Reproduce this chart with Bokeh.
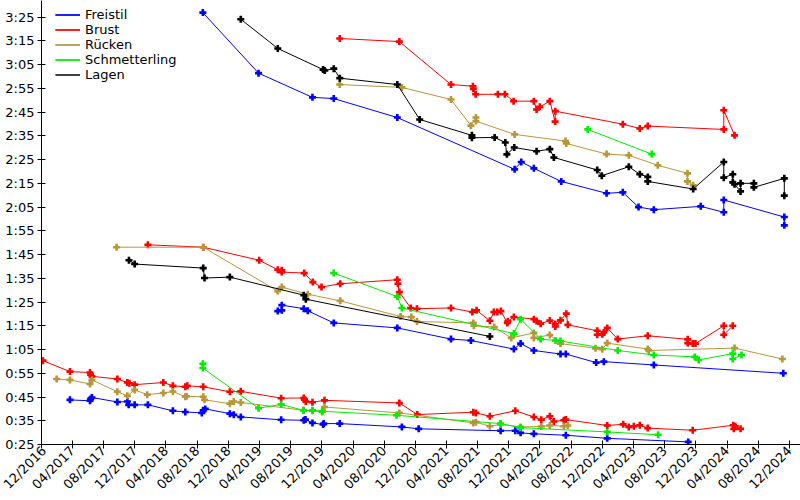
import math
import datetime as dt
from bokeh.plotting import figure
from bokeh.models import Range1d, FixedTicker, DatetimeTickFormatter, Legend, LegendItem
from bokeh.embed import file_html
from bokeh.resources import INLINE

# ---------------- tick labels ----------------
x_tick_labels = ["12/2016", "04/2017", "08/2017", "12/2017", "04/2018", "08/2018", "12/2018",
                 "04/2019", "08/2019", "12/2019", "04/2020", "08/2020", "12/2020", "04/2021",
                 "08/2021", "12/2021", "04/2022", "08/2022", "12/2022", "04/2023", "08/2023",
                 "12/2023", "04/2024", "08/2024", "12/2024"]
y_tick_labels = ["0:25", "0:35", "0:45", "0:55", "1:05", "1:15", "1:25", "1:35", "1:45", "1:55",
                 "2:05", "2:15", "2:25", "2:35", "2:45", "2:55", "3:05", "3:15", "3:25"]

# ---------------- data: dates as decimal years, times in seconds ----------------
# Freistil
freistil_200_dates = [2018.642, 2019.238, 2019.815, 2020.043, 2020.721, 2021.976, 2022.047, 2022.182,
                      2022.475, 2022.960, 2023.134, 2023.302, 2023.466, 2023.968, 2024.214, 2024.214,
                      2024.860, 2024.860]
freistil_200_times = [206.9, 181.4, 171.2, 170.7, 162.7, 140.9, 144.0, 141.3, 135.8, 130.8, 131.2,
                      125.0, 123.9, 125.3, 122.8, 128.0, 120.8, 117.3]
freistil_100_dates = [2019.444, 2019.487, 2019.487, 2019.722, 2019.765, 2020.043, 2020.721, 2021.295,
                      2021.508, 2021.968, 2022.040, 2022.182, 2022.467, 2022.524, 2022.849, 2022.931,
                      2023.466, 2024.849]
freistil_100_times = [81.2, 81.5, 83.7, 82.2, 81.3, 76.2, 74.1, 69.4, 68.8, 65.2, 67.5, 64.6, 63.1,
                      63.1, 59.5, 59.9, 58.5, 55.0]
freistil_50_dates = [2017.220, 2017.434, 2017.441, 2017.455, 2017.727, 2017.834, 2017.848, 2017.912,
                     2018.054, 2018.321, 2018.454, 2018.631, 2018.646, 2018.668, 2018.931, 2018.973,
                     2019.048, 2019.480, 2019.722, 2019.740, 2019.815, 2019.929, 2019.936, 2020.107,
                     2020.770, 2020.949, 2021.826, 2021.983, 2022.040, 2022.182, 2022.524, 2022.967,
                     2023.834]
freistil_50_times = [43.8, 43.4, 44.2, 44.8, 42.9, 43.1, 41.7, 41.7, 41.7, 39.2, 38.7, 38.3, 39.4,
                     40.0, 38.0, 37.5, 36.6, 35.4, 35.2, 35.5, 34.1, 33.4, 33.8, 33.8, 32.4, 31.6,
                     30.8, 30.8, 29.9, 29.5, 28.9, 27.6, 26.1]

# Brust
brust_200_dates = [2020.107, 2020.743, 2021.295, 2021.530, 2021.534, 2021.559, 2021.797, 2021.872,
                   2021.965, 2022.182, 2022.211, 2022.246, 2022.353, 2022.409, 2022.411, 2023.134,
                   2023.316, 2023.401, 2024.214, 2024.214, 2024.329]
brust_200_times = [196.0, 194.7, 176.6, 175.9, 174.8, 172.5, 172.5, 172.5, 169.6, 169.6, 166.1,
                   167.2, 169.6, 161.0, 165.4, 159.9, 158.1, 159.1, 157.7, 165.8, 155.2]
brust_100_dates = [2018.054, 2018.646, 2019.245, 2019.444, 2019.487, 2019.487, 2019.727, 2019.819,
                   2019.912, 2020.112, 2020.721, 2020.728, 2020.743, 2020.864, 2020.931, 2021.295,
                   2021.523, 2021.569, 2021.711, 2021.754, 2021.791, 2021.829, 2021.898, 2021.904,
                   2021.968, 2022.182, 2022.211, 2022.254, 2022.353, 2022.411, 2022.411, 2022.467,
                   2022.529, 2022.546, 2022.860, 2022.860, 2022.914, 2022.931, 2022.967, 2023.080,
                   2023.401, 2023.829, 2023.829, 2023.882, 2023.911, 2024.214, 2024.214, 2024.310]
brust_100_times = [109.1, 108.1, 102.6, 98.6, 98.4, 97.6, 97.2, 93.4, 91.3, 92.7, 94.4, 92.7, 89.2,
                   82.5, 82.2, 82.5, 80.8, 81.5, 77.1, 80.8, 80.8, 81.2, 76.2, 76.9, 78.7, 77.8,
                   77.0, 75.9, 77.2, 75.7, 74.7, 77.3, 80.1, 75.4, 72.9, 71.2, 71.4, 72.2, 74.1,
                   69.4, 70.8, 69.3, 67.7, 67.5, 67.5, 75.0, 71.2, 75.0]
brust_50_dates = [2016.931, 2017.220, 2017.434, 2017.441, 2017.455, 2017.727, 2017.834, 2017.855,
                  2017.912, 2018.219, 2018.321, 2018.454, 2018.475, 2018.646, 2018.931, 2019.048,
                  2019.480, 2019.722, 2019.730, 2019.744, 2019.815, 2019.944, 2020.743, 2020.935,
                  2021.534, 2021.562, 2021.711, 2021.983, 2022.182, 2022.261, 2022.353, 2022.396,
                  2022.503, 2022.524, 2022.967, 2023.138, 2023.198, 2023.252, 2023.316, 2023.401,
                  2023.882, 2024.315, 2024.321, 2024.336, 2024.393]
brust_50_times = [60.3, 55.7, 55.3, 54.4, 53.7, 52.6, 51.1, 50.8, 50.2, 51.1, 49.7, 49.3, 49.7,
                  49.3, 47.2, 47.4, 44.5, 44.6, 43.9, 43.1, 42.8, 43.6, 42.5, 37.6, 38.6, 38.3,
                  36.9, 39.2, 36.6, 35.4, 36.9, 34.7, 35.2, 35.5, 33.0, 33.5, 32.4, 32.7, 33.1,
                  31.9, 31.0, 33.1, 31.6, 32.7, 31.6]

# Rücken
ruecken_200_dates = [2020.107, 2020.770, 2021.295, 2021.508, 2021.562, 2021.562, 2021.976, 2022.521,
                     2022.529, 2022.960, 2023.198, 2023.508, 2023.826, 2023.826, 2023.887]
ruecken_200_times = [176.6, 175.4, 170.3, 159.3, 162.7, 161.2, 155.6, 152.8, 151.8, 147.3, 146.8,
                     142.6, 139.2, 135.8, 134.2]
ruecken_100_dates = [2017.719, 2018.646, 2019.444, 2019.487, 2019.765, 2020.112, 2020.756, 2020.871,
                     2020.931, 2021.534, 2021.540, 2021.758, 2021.940, 2022.182, 2022.182, 2022.353,
                     2022.467, 2022.842, 2022.914, 2022.967, 2023.401, 2023.412, 2024.329, 2024.839]
ruecken_100_times = [108.1, 108.1, 89.6, 91.3, 88.3, 85.5, 78.9, 78.7, 76.8, 76.2, 75.0, 74.5, 69.9,
                     72.0, 69.9, 71.1, 67.5, 65.5, 65.1, 67.7, 65.2, 64.6, 65.6, 61.0]
ruecken_50_dates = [2017.077, 2017.220, 2017.434, 2017.455, 2017.727, 2017.834, 2017.912, 2018.047,
                    2018.219, 2018.321, 2018.454, 2018.468, 2018.646, 2018.660, 2018.931, 2018.973,
                    2019.048, 2019.722, 2019.815, 2019.919, 2019.944, 2020.743, 2021.534, 2021.562,
                    2021.711, 2021.826, 2022.040, 2022.261, 2022.353, 2022.503, 2022.546]
ruecken_50_times = [52.6, 52.2, 50.5, 52.2, 47.2, 45.5, 48.0, 46.0, 46.7, 47.3, 45.1, 45.3, 45.1,
                    43.8, 42.2, 43.1, 42.7, 39.4, 39.2, 38.7, 40.8, 38.3, 34.1, 34.4, 32.7, 33.5,
                    32.4, 32.6, 33.0, 32.7, 33.0]

# Schmetterling
schmetterling_200_dates = [2022.759, 2023.444]
schmetterling_200_times = [157.7, 147.3]
schmetterling_100_dates = [2020.043, 2020.721, 2020.770, 2021.968, 2022.040, 2022.254, 2022.414,
                           2022.467, 2023.080, 2023.466, 2023.904, 2023.946, 2024.310, 2024.310,
                           2024.403]
schmetterling_100_times = [97.2, 87.3, 82.5, 71.7, 77.8, 69.4, 68.8, 68.6, 64.6, 62.7, 61.9, 60.6,
                           63.3, 61.0, 62.7]
schmetterling_50_dates = [2018.642, 2018.642, 2019.238, 2019.480, 2019.716, 2019.815, 2019.919,
                          2020.713, 2021.826, 2022.040, 2022.967, 2023.512]
schmetterling_50_times = [59.0, 57.2, 40.3, 41.9, 39.4, 39.4, 39.0, 37.3, 33.8, 32.1, 30.3, 29.1]

# Lagen
lagen_200_dates = [2019.048, 2019.444, 2019.929, 2019.947, 2020.043, 2020.107, 2020.721, 2020.960,
                   2021.519, 2021.519, 2021.762, 2021.876, 2021.893, 2021.972, 2022.211, 2022.353,
                   2022.396, 2022.860, 2022.909, 2023.198, 2023.316, 2023.401, 2023.401, 2023.887,
                   2024.214, 2024.214, 2024.310, 2024.310, 2024.329, 2024.393, 2024.393, 2024.535,
                   2024.535, 2024.860, 2024.860]
lagen_200_times = [204.1, 191.8, 182.9, 182.5, 183.3, 179.3, 176.6, 161.9, 155.2, 154.2, 154.3,
                   152.2, 147.2, 150.1, 148.5, 149.4, 145.9, 140.6, 138.2, 142.0, 138.8, 137.7,
                   135.8, 132.6, 144.0, 137.4, 138.8, 135.4, 134.6, 131.6, 135.0, 135.0, 133.3,
                   137.1, 129.8]
lagen_100_dates = [2017.851, 2017.912, 2018.646, 2018.660, 2018.931, 2019.722, 2019.744, 2021.711]
lagen_100_times = [102.6, 101.0, 99.3, 95.1, 95.5, 87.9, 86.2, 70.5]

series_names = ["Freistil", "Brust", "Rücken", "Schmetterling", "Lagen"]
series_colors = ["#0000ff", "#ff0000", "#b8963c", "#00ee00", "#000000"]
series_strokes = [
    [(freistil_200_dates, freistil_200_times), (freistil_100_dates, freistil_100_times),
     (freistil_50_dates, freistil_50_times)],
    [(brust_200_dates, brust_200_times), (brust_100_dates, brust_100_times),
     (brust_50_dates, brust_50_times)],
    [(ruecken_200_dates, ruecken_200_times), (ruecken_100_dates, ruecken_100_times),
     (ruecken_50_dates, ruecken_50_times)],
    [(schmetterling_200_dates, schmetterling_200_times),
     (schmetterling_100_dates, schmetterling_100_times),
     (schmetterling_50_dates, schmetterling_50_times)],
    [(lagen_200_dates, lagen_200_times), (lagen_100_dates, lagen_100_times)],
]


def to_datetime(v):
    yr = int(v)
    start = dt.datetime(yr, 1, 1)
    end = dt.datetime(yr + 1, 1, 1)
    return start + (end - start) * (v - yr)


def label_to_seconds(s):
    m, sec = s.split(":")
    return int(m) * 60 + int(sec)


epoch = dt.datetime(1970, 1, 1)
x_ticks = [(dt.datetime(int(s[3:]), int(s[:2]), 1) - epoch).total_seconds() * 1000 for s in x_tick_labels]
y_ticks = [label_to_seconds(s) for s in y_tick_labels]

FONT = "DejaVu Sans"

p = figure(width=800, height=500, x_axis_type="datetime", output_backend="svg",
           toolbar_location=None,
           x_range=Range1d(dt.datetime(2016, 12, 1), dt.datetime(2025, 1, 13)),
           y_range=Range1d(25, 212),
           min_border_left=41, min_border_right=0, min_border_top=0, min_border_bottom=55)
p.background_fill_color = "white"
p.border_fill_color = "white"
p.outline_line_color = None
p.xgrid.visible = False
p.ygrid.visible = False

items = []
for name, color, strokes in zip(series_names, series_colors, series_strokes):
    rends = []
    for d, t in strokes:
        xs = [to_datetime(v) for v in d]
        r = p.line(xs, t, line_color=color, line_width=1)
        p.scatter(xs, t, marker="plus", size=7, fill_color=color, line_color=color, line_width=0)
        rends.append(r)
    items.append(LegendItem(label=name, renderers=rends))

p.xaxis.ticker = FixedTicker(ticks=x_ticks)
fmt = "%m/%Y"
p.xaxis.formatter = DatetimeTickFormatter(milliseconds=fmt, seconds=fmt, minsec=fmt, minutes=fmt,
                                          hourmin=fmt, hours=fmt, days=fmt, months=fmt, years=fmt)
p.xaxis.major_label_orientation = math.pi / 4
p.yaxis.ticker = FixedTicker(ticks=y_ticks)
p.yaxis.major_label_overrides = {v: s for v, s in zip(y_ticks, y_tick_labels)}

for ax in (p.xaxis[0], p.yaxis[0]):
    ax.major_label_text_font = FONT
    ax.major_label_text_font_size = "13px"
    ax.major_label_text_color = "black"
    ax.axis_line_color = "black"
    ax.axis_line_width = 1
    ax.major_tick_line_color = "black"
    ax.major_tick_in = 4
    ax.major_tick_out = 4
    ax.minor_tick_line_color = None
p.yaxis.major_label_standoff = 3
p.xaxis.major_label_standoff = 0

legend = Legend(items=items, location=(14, 362), orientation="vertical",
                background_fill_alpha=0, border_line_color=None,
                label_text_font=FONT, label_text_font_size="13px", label_text_color="black",
                glyph_width=25, glyph_height=13, label_height=13, spacing=0,
                padding=0, margin=0, label_standoff=5)
p.add_layout(legend)

open("out.html", "w").write(file_html(p, INLINE))
